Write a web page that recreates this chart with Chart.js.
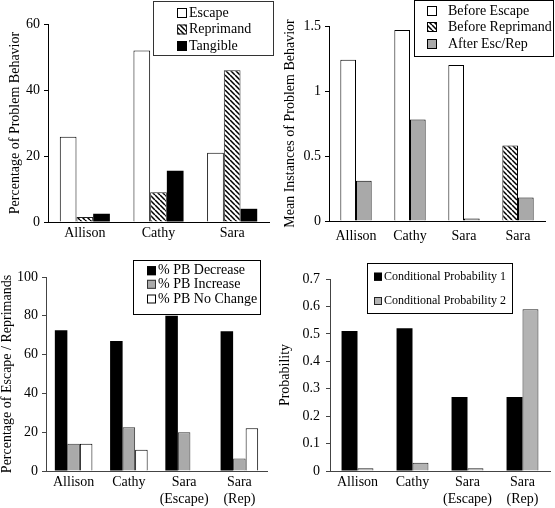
<!DOCTYPE html>
<html>
<head>
<meta charset="utf-8">
<script src="https://cdn.jsdelivr.net/npm/chart.js@4.4.0/dist/chart.umd.min.js"></script>
<style>
html, body { margin: 0; padding: 0; background: #fff; }
#wrap { position: relative; width: 555px; height: 508px; overflow: hidden; }
canvas { position: absolute; }
</style>
</head>
<body>
<div id="wrap">
  <canvas id="c1" width="277" height="250" style="left:0;top:0"></canvas>
  <canvas id="c2" width="278" height="250" style="left:277px;top:0"></canvas>
  <canvas id="c3" width="277" height="258" style="left:0;top:250px"></canvas>
  <canvas id="c4" width="278" height="258" style="left:277px;top:250px"></canvas>
</div>
<script>
// top left: function of problem behavior
var kids3 = ["Allison", "Cathy", "Sara"];
var escapePct = [25.8, 52, 21];
var reprimandPct = [1.5, 9, 46];
var tangiblePct = [2.5, 15.5, 4];

// top right: mean instances before / after
var kidsTR = ["Allison", "Cathy", "Sara", "Sara"];
var beforeEscape = [1.24, 1.47, 1.2, null];
var beforeReprimand = [null, null, null, 0.58];
var afterEscRep = [0.31, 0.78, 0.02, 0.18];

// bottom row categories
var kidsB = ["Allison", "Cathy", ["Sara", "(Escape)"], ["Sara", "(Rep)"]];
var pbDecrease = [72.5, 67, 80, 72];
var pbIncrease = [14, 22.5, 20, 6.5];
var pbNoChange = [14, 11, 0.3, 22];

var condProb1 = [0.51, 0.52, 0.27, 0.27];
var condProb2 = [0.01, 0.03, 0.01, 0.59];

// y axis ranges [max, step]
var yTL = [60, 20];
var yTR = [1.5, 0.5];
var yBL = [100, 20];
var yBR = [0.7, 0.1];

var FONT = '"Liberation Serif", "Times New Roman", Times, serif';
Chart.defaults.font.family = FONT;
Chart.defaults.font.size = 14;
Chart.defaults.color = '#000';

function hatch() {
    var c = document.createElement('canvas');
    c.width = 5; c.height = 5;
    var g = c.getContext('2d');
    g.fillStyle = '#fff';
    g.fillRect(0, 0, 5, 5);
    g.strokeStyle = '#000';
    g.lineWidth = 1.5;
    g.beginPath();
    for (var k = -1; k <= 1; k++) {
        g.moveTo(k * 5, 0);
        g.lineTo(k * 5 + 5, 5);
    }
    g.stroke();
    return g.createPattern(c, 'repeat');
}
var HATCH = hatch();

// legend drawn in a box, like the original figure
function boxLegend(o) {
    return {
        id: 'boxLegend',
        afterDraw: function (chart) {
            var ctx = chart.ctx;
            ctx.save();
            ctx.fillStyle = '#fff';
            ctx.fillRect(o.x, o.y, o.w, o.h);
            ctx.strokeStyle = o.border;
            ctx.lineWidth = 1;
            ctx.strokeRect(o.x + 0.5, o.y + 0.5, o.w, o.h);
            ctx.font = o.size + 'px ' + FONT;
            ctx.textBaseline = 'middle';
            chart.data.datasets.forEach(function (ds, i) {
                var y = o.rows[i];
                ctx.fillStyle = ds.backgroundColor;
                ctx.fillRect(o.boxX, y - o.box / 2, o.box, o.box);
                ctx.strokeStyle = ds.borderColor || '#000';
                ctx.strokeRect(o.boxX + 0.5, y - o.box / 2 + 0.5, o.box - 1, o.box - 1);
                ctx.fillStyle = '#000';
                ctx.fillText(ds.label, o.textX, y);
            });
            ctx.restore();
        }
    };
}

function opts(o) {
    var f = { family: FONT, size: 14 };
    return {
        responsive: false,
        animation: false,
        layout: { padding: { top: o.top, right: o.right, left: 0, bottom: 0 } },
        plugins: { legend: { display: false }, tooltip: { enabled: false } },
        datasets: { bar: { categoryPercentage: o.cat, barPercentage: 1, skipNull: true } },
        scales: {
            x: {
                grid: { display: false, drawTicks: false, tickLength: 0 },
                border: { color: o.axis, width: 1 },
                ticks: { padding: o.xPad, maxRotation: 0, autoSkip: false, font: f, color: '#000' },
                afterFit: function (s) { s.height = o.xh; }
            },
            y: {
                min: 0,
                max: o.range[0],
                ticks: {
                    stepSize: o.range[1],
                    padding: o.yPad,
                    font: f, color: '#000',
                    callback: function (v) { return String(Number(v.toFixed(2))); }
                },
                grid: { drawOnChartArea: false, color: o.axis, tickLength: 4 },
                border: { color: o.axis, width: 1 },
                title: {
                    display: true, text: o.title, color: '#000',
                    font: { family: FONT, size: 14, lineHeight: o.lh || 1.2 },
                    padding: { top: o.tpad, bottom: 0 }
                },
                afterFit: function (s) { s.width = o.yw; }
            }
        }
    };
}

new Chart(document.getElementById('c1'), {
    type: 'bar',
    data: {
        labels: kids3,
        datasets: [
            { label: 'Escape', data: escapePct, backgroundColor: '#fff', borderColor: '#000', borderWidth: 1 },
            { label: 'Reprimand', data: reprimandPct, backgroundColor: HATCH, borderColor: '#222', borderWidth: 1 },
            { label: 'Tangible', data: tangiblePct, backgroundColor: '#000', borderColor: '#000', borderWidth: 0 }
        ]
    },
    options: opts({ top: 24, right: 8, xh: 28, yw: 48, cat: 0.68, axis: '#000', xPad: 3, yPad: 4,
        range: yTL, title: 'Percentage of Problem Behavior', tpad: 7 }),
    plugins: [boxLegend({ x: 153, y: 1, w: 120, h: 54, border: '#333', size: 14,
        rows: [13, 29.5, 46], boxX: 177, box: 10, textX: 189 })]
});

new Chart(document.getElementById('c2'), {
    type: 'bar',
    data: {
        labels: kidsTR,
        datasets: [
            { label: 'Before Escape', data: beforeEscape, backgroundColor: '#fff', borderColor: '#000', borderWidth: 1 },
            { label: 'Before Reprimand', data: beforeReprimand, backgroundColor: HATCH, borderColor: '#000', borderWidth: 1 },
            { label: 'After Esc/Rep', data: afterEscRep, backgroundColor: '#a9a9a9', borderColor: '#000', borderWidth: 1 }
        ]
    },
    options: opts({ top: 26, right: 10, xh: 29, yw: 52, cat: 0.58, axis: '#000', xPad: 7, yPad: 4,
        range: yTR, title: 'Mean Instances of Problem Behavior', tpad: 5 }),
    plugins: [boxLegend({ x: 137, y: 0, w: 139, h: 56, border: '#000', size: 14,
        rows: [11, 27, 44], boxX: 150, box: 10, textX: 171 })]
});

new Chart(document.getElementById('c3'), {
    type: 'bar',
    data: {
        labels: kidsB,
        datasets: [
            { label: '% PB Decrease', data: pbDecrease, backgroundColor: '#000', borderColor: '#000', borderWidth: 0 },
            { label: '% PB Increase', data: pbIncrease, backgroundColor: '#aaaaaa', borderColor: '#333', borderWidth: 1 },
            { label: '% PB No Change', data: pbNoChange, backgroundColor: '#fff', borderColor: '#000', borderWidth: 1 }
        ]
    },
    options: opts({ top: 27, right: 10, xh: 37, yw: 46, cat: 0.68, axis: '#444', xPad: 3, yPad: 4,
        range: yBL, title: 'Percentage of Escape / Reprimands', tpad: 0, lh: 1 }),
    plugins: [boxLegend({ x: 133, y: 10, w: 127, h: 54, border: '#000', size: 14,
        rows: [20.7, 34.3, 49], boxX: 147, box: 9, textX: 158 })]
});

new Chart(document.getElementById('c4'), {
    type: 'bar',
    data: {
        labels: kidsB,
        datasets: [
            { label: 'Conditional Probability 1', data: condProb1, backgroundColor: '#000', borderColor: '#000', borderWidth: 0 },
            { label: 'Conditional Probability 2', data: condProb2, backgroundColor: '#b3b3b3', borderColor: '#222', borderWidth: 1 }
        ]
    },
    options: opts({ top: 29, right: 5, xh: 37, yw: 53, cat: 0.58, axis: '#444', xPad: 3, yPad: 6,
        range: yBR, title: 'Probability', tpad: 0 }),
    plugins: [boxLegend({ x: 90, y: 13, w: 145, h: 50, border: '#000', size: 12,
        rows: [26.7, 51], boxX: 97, box: 8, textX: 107 })]
});
</script>
</body>
</html>
